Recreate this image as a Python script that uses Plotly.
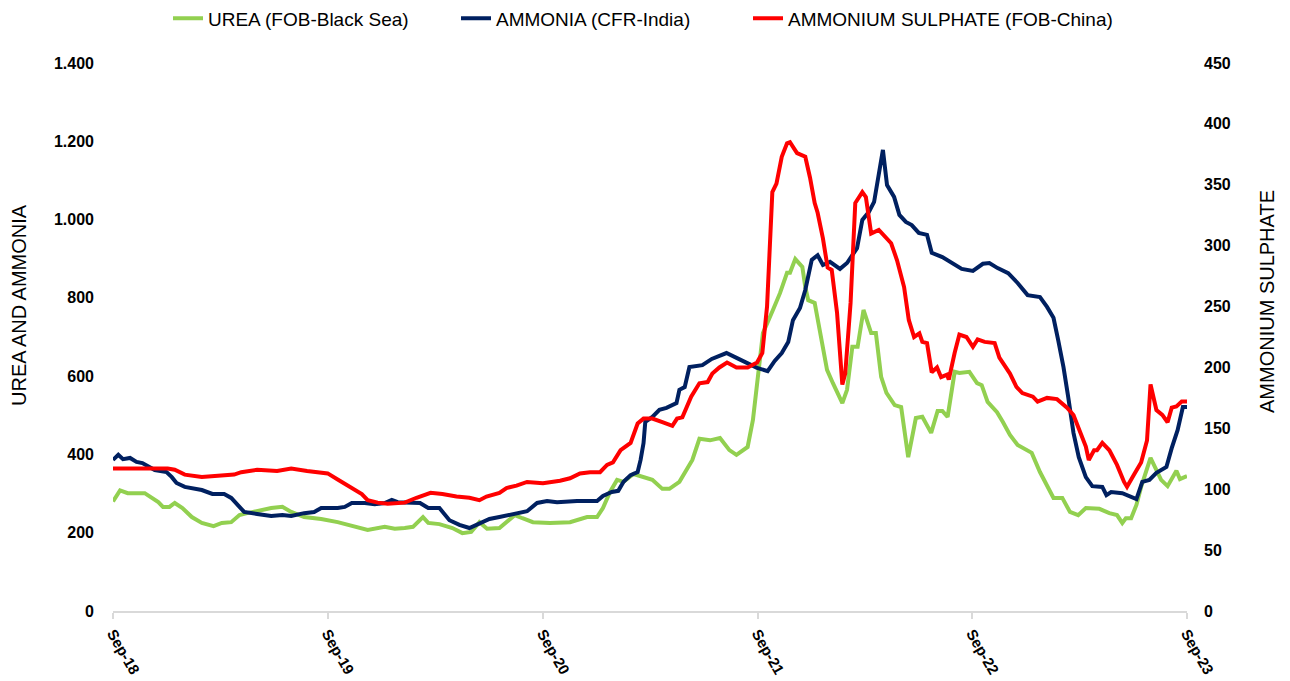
import plotly.graph_objects as go

# ---------------- data ----------------
urea_dates = ["2018-09-01","2018-09-13","2018-09-26","2018-10-25","2018-10-30","2018-11-17","2018-11-25","2018-12-06","2018-12-15","2018-12-28",
"2019-01-13","2019-01-30","2019-02-19","2019-03-05","2019-03-21","2019-04-04","2019-04-17","2019-05-11","2019-05-28","2019-06-16",
"2019-07-01","2019-07-23","2019-08-21","2019-09-18","2019-10-12","2019-11-08","2019-12-07","2019-12-24","2020-01-10","2020-01-24",
"2020-02-10","2020-02-19","2020-03-09","2020-03-31","2020-04-17","2020-05-02","2020-05-16","2020-05-29","2020-06-19","2020-07-06",
"2020-07-15","2020-07-28","2020-08-15","2020-09-13","2020-10-17","2020-11-15","2020-12-02","2020-12-12","2020-12-24","2021-01-05",
"2021-01-16","2021-02-02","2021-02-19","2021-03-06","2021-03-23","2021-04-04","2021-04-21","2021-05-03","2021-05-13","2021-05-25",
"2021-06-12","2021-06-29","2021-07-15","2021-07-27","2021-08-15","2021-08-24","2021-09-02","2021-09-10","2021-09-27","2021-10-09",
"2021-10-21","2021-10-26","2021-11-04","2021-11-16","2021-11-21","2021-11-26","2021-12-07","2021-12-19","2021-12-28","2022-01-07",
"2022-01-23","2022-01-31","2022-02-09","2022-02-18","2022-02-28","2022-03-13","2022-03-21","2022-03-30","2022-04-08","2022-04-22",
"2022-05-03","2022-05-15","2022-05-28","2022-06-08","2022-06-23","2022-07-04","2022-07-12","2022-07-21","2022-08-02","2022-08-10",
"2022-08-27","2022-09-09","2022-09-17","2022-09-27","2022-10-13","2022-10-23","2022-11-04","2022-11-17","2022-12-11","2022-12-25",
"2023-01-17","2023-02-01","2023-02-14","2023-02-28","2023-03-13","2023-04-05","2023-04-22","2023-05-05","2023-05-14","2023-05-20",
"2023-05-29","2023-06-07","2023-06-15","2023-07-01","2023-07-11","2023-07-19","2023-07-30","2023-08-07","2023-08-14","2023-08-20",
"2023-09-01"]
urea_values = [280,308,301,301,296,278,266,266,276,263,
240,225,217,225,227,245,250,258,263,266,
253,240,235,227,217,207,215,210,212,215,
240,225,222,212,199,202,227,210,212,232,
245,237,227,225,227,240,240,263,304,335,
330,350,342,335,312,312,330,360,386,440,
436,442,411,399,419,488,608,710,769,812,
864,864,899,879,828,794,787,692,616,582,
531,565,675,675,769,710,710,598,557,526,
521,393,493,496,455,511,511,496,611,608,
611,582,577,534,508,483,450,424,404,355,
289,289,253,245,263,261,250,245,225,237,
237,271,317,391,360,335,319,340,358,337,
345]

ammonia_dates = ["2018-09-01","2018-09-10","2018-09-18","2018-09-30","2018-10-11","2018-10-21","2018-11-11","2018-12-01","2018-12-10","2018-12-18",
"2019-01-01","2019-01-15","2019-01-30","2019-02-17","2019-03-09","2019-03-21","2019-03-31","2019-04-12","2019-05-04","2019-05-28",
"2019-06-16","2019-07-01","2019-07-23","2019-08-09","2019-08-21","2019-09-18","2019-09-30","2019-10-12","2019-11-03","2019-11-20",
"2019-12-07","2019-12-19","2019-12-29","2020-02-05","2020-02-19","2020-03-09","2020-03-26","2020-04-12","2020-04-29","2020-05-21",
"2020-06-02","2020-06-19","2020-07-15","2020-08-05","2020-08-22","2020-09-08","2020-09-25","2020-10-29","2020-12-02","2020-12-12",
"2020-12-27","2021-01-07","2021-01-16","2021-01-28","2021-02-09","2021-02-14","2021-02-19","2021-02-22","2021-03-06","2021-03-18",
"2021-03-30","2021-04-16","2021-04-21","2021-04-30","2021-05-08","2021-05-30","2021-06-15","2021-07-10","2021-07-28","2021-08-14",
"2021-08-31","2021-09-18","2021-09-30","2021-10-12","2021-10-23","2021-10-31","2021-11-12","2021-11-21","2021-12-02","2021-12-12",
"2021-12-21","2022-01-02","2022-01-19","2022-01-31","2022-02-17","2022-02-26","2022-03-09","2022-03-18","2022-03-26","2022-04-02",
"2022-04-09","2022-04-21","2022-04-30","2022-05-11","2022-05-21","2022-06-02","2022-06-16","2022-06-24","2022-07-12","2022-07-24",
"2022-08-14","2022-09-02","2022-09-19","2022-09-30","2022-10-14","2022-11-01","2022-11-17","2022-12-04","2022-12-25","2023-01-06",
"2023-01-17","2023-01-25","2023-02-03","2023-02-11","2023-02-20","2023-03-01","2023-03-13","2023-03-24","2023-04-10","2023-04-17",
"2023-04-25","2023-05-14","2023-05-29","2023-06-07","2023-06-17","2023-06-29","2023-07-11","2023-07-28","2023-08-06","2023-08-16",
"2023-08-25","2023-09-01"]
ammonia_values = [386,399,388,391,381,378,360,355,342,327,
317,312,309,299,299,289,271,253,248,243,
245,243,250,253,263,263,266,276,276,273,
276,284,278,276,263,263,232,220,212,227,
235,240,248,255,276,281,278,281,281,294,
304,307,330,347,355,386,429,483,496,514,
519,531,565,572,623,628,644,659,646,634,
621,613,639,659,687,743,774,820,897,909,
884,892,874,889,927,999,1019,1045,1119,1178,
1088,1058,1012,994,986,966,961,915,904,892,
874,869,887,889,876,863,838,807,802,777,
749,692,623,547,455,393,342,319,317,296,
304,301,291,286,330,335,353,368,416,462,
521,521]

sulphate_dates = ["2018-09-01","2018-12-03","2018-12-15","2019-01-01","2019-01-30","2019-02-22","2019-03-26","2019-04-07","2019-05-04","2019-06-07",
"2019-07-01","2019-07-28","2019-08-21","2019-09-01","2019-09-18","2019-10-12","2019-10-29","2019-11-08","2019-11-25","2019-12-12",
"2020-01-10","2020-01-30","2020-02-23","2020-03-14","2020-04-07","2020-04-29","2020-05-16","2020-05-28","2020-06-19","2020-07-01",
"2020-07-18","2020-08-05","2020-09-01","2020-09-30","2020-10-17","2020-11-03","2020-11-20","2020-12-07","2020-12-19","2020-12-29",
"2021-01-11","2021-01-28","2021-02-09","2021-02-19","2021-03-06","2021-03-23","2021-04-09","2021-04-17","2021-04-26","2021-05-11",
"2021-05-25","2021-06-08","2021-06-16","2021-06-28","2021-07-11","2021-07-27","2021-08-15","2021-08-31","2021-09-09","2021-09-17",
"2021-09-26","2021-10-03","2021-10-12","2021-10-21","2021-10-26","2021-11-07","2021-11-21","2021-11-29","2021-12-07","2021-12-12",
"2021-12-21","2021-12-29","2022-01-05","2022-01-14","2022-01-23","2022-01-28","2022-02-06","2022-02-14","2022-02-26","2022-03-04",
"2022-03-13","2022-03-26","2022-04-04","2022-04-16","2022-04-26","2022-05-08","2022-05-16","2022-05-25","2022-06-03","2022-06-08",
"2022-06-16","2022-06-24","2022-07-03","2022-07-10","2022-07-20","2022-07-23","2022-08-02","2022-08-10","2022-08-22","2022-09-02",
"2022-09-10","2022-09-22","2022-10-09","2022-10-17","2022-11-04","2022-11-15","2022-11-25","2022-12-13","2022-12-21","2023-01-06",
"2023-01-23","2023-02-09","2023-02-20","2023-03-01","2023-03-13","2023-03-18","2023-03-27","2023-04-01","2023-04-10","2023-04-22",
"2023-05-05","2023-05-17","2023-05-22","2023-06-03","2023-06-15","2023-06-25","2023-07-01","2023-07-11","2023-07-21","2023-07-30",
"2023-08-06","2023-08-14","2023-08-23","2023-09-01"]
sulphate_values = [117,117,116,112,110,111,112,114,116,115,
117,115,114,113,108,101,96,91,89,88,
89,93,97,96,94,93,91,94,97,101,
103,106,105,107,109,113,114,114,120,122,
132,138,154,158,158,155,152,158,159,176,
187,188,195,200,204,200,200,204,212,250,
344,351,373,384,385,376,373,356,335,327,
306,282,280,245,186,195,253,335,344,340,
310,313,308,302,288,266,239,225,228,221,
220,196,200,192,194,190,212,227,225,217,
223,221,220,208,195,184,179,176,172,175,
174,167,161,149,135,124,132,132,138,132,
120,106,102,112,122,140,186,165,161,155,
167,168,172,172]

tick_dates = ["2018-09-01","2019-09-01","2020-09-01","2021-09-01","2022-09-01","2023-09-01"]
tick_labels = ["Sep-18","Sep-19","Sep-20","Sep-21","Sep-22","Sep-23"]

series_names = ["UREA (FOB-Black Sea)", "AMMONIA (CFR-India)", "AMMONIUM SULPHATE (FOB-China)"]
series_colors = ["#92D050", "#002060", "#FF0000"]

# ---------------- figure ----------------
FONT = "Liberation Sans, Arial, sans-serif"
fig = go.Figure()
fig.add_trace(go.Scatter(x=urea_dates, y=urea_values, name=series_names[0], mode="lines",
                         line=dict(color=series_colors[0], width=4), legend="legend"))
fig.add_trace(go.Scatter(x=ammonia_dates, y=ammonia_values, name=series_names[1], mode="lines",
                         line=dict(color=series_colors[1], width=4), legend="legend2"))
fig.add_trace(go.Scatter(x=sulphate_dates, y=sulphate_values, name=series_names[2], mode="lines",
                         line=dict(color=series_colors[2], width=4), yaxis="y2", legend="legend3"))


def legend_at(left_px):
    return dict(orientation="h", x=(left_px - 113) / 1074, xanchor="left", xref="paper",
                y=0.973, yanchor="middle", yref="container",
                font=dict(size=19, family=FONT, color="#000000"),
                itemwidth=30, bgcolor="rgba(0,0,0,0)")


fig.update_layout(
    width=1290, height=681,
    margin=dict(l=113, r=103, t=63, b=70, autoexpand=False),
    paper_bgcolor="white", plot_bgcolor="white",
    separators=",.",
    font=dict(family=FONT, color="#000000"),
    showlegend=True,
    legend=legend_at(168),
    legend2=legend_at(456),
    legend3=legend_at(748),
    xaxis=dict(type="date", range=["2018-09-01", "2023-09-01"], automargin=False,
               tickmode="array", tickvals=tick_dates, ticktext=tick_labels,
               tickangle=60, tickfont=dict(size=15, family=FONT, color="#000000", weight="bold"),
               showgrid=False, zeroline=False,
               showline=True, linecolor="#D9D9D9", linewidth=2,
               ticks="outside", ticklen=6, tickcolor="#D9D9D9", tickwidth=1.5),
    yaxis=dict(range=[0, 1400], tickmode="array", tickvals=[0,200,400,600,800,1000,1200,1400],
               tickformat=",d", showgrid=False, zeroline=False, showline=False, ticks="",
               ticklabelstandoff=18, automargin=False,
               tickfont=dict(size=16, family=FONT, color="#000000", weight="bold")),
    yaxis2=dict(range=[0, 450], overlaying="y", side="right",
                tickmode="array", tickvals=[0,50,100,150,200,250,300,350,400,450],
                showgrid=False, zeroline=False, showline=False, ticks="",
                ticklabelstandoff=16, automargin=False,
                tickfont=dict(size=16, family=FONT, color="#000000", weight="bold")),
    annotations=[
        dict(text="UREA AND AMMONIA", textangle=-90, xref="paper", yref="paper",
             x=-113/1074 + 19/1074, y=(611-305)/548, xanchor="center", yanchor="middle",
             showarrow=False, font=dict(size=20, family=FONT, color="#000000")),
        dict(text="AMMONIUM SULPHATE", textangle=-90, xref="paper", yref="paper",
             x=(1267-113)/1074, y=(611-302)/548, xanchor="center", yanchor="middle",
             showarrow=False, font=dict(size=20, family=FONT, color="#000000")),
    ],
)

fig.write_html("out.html")
